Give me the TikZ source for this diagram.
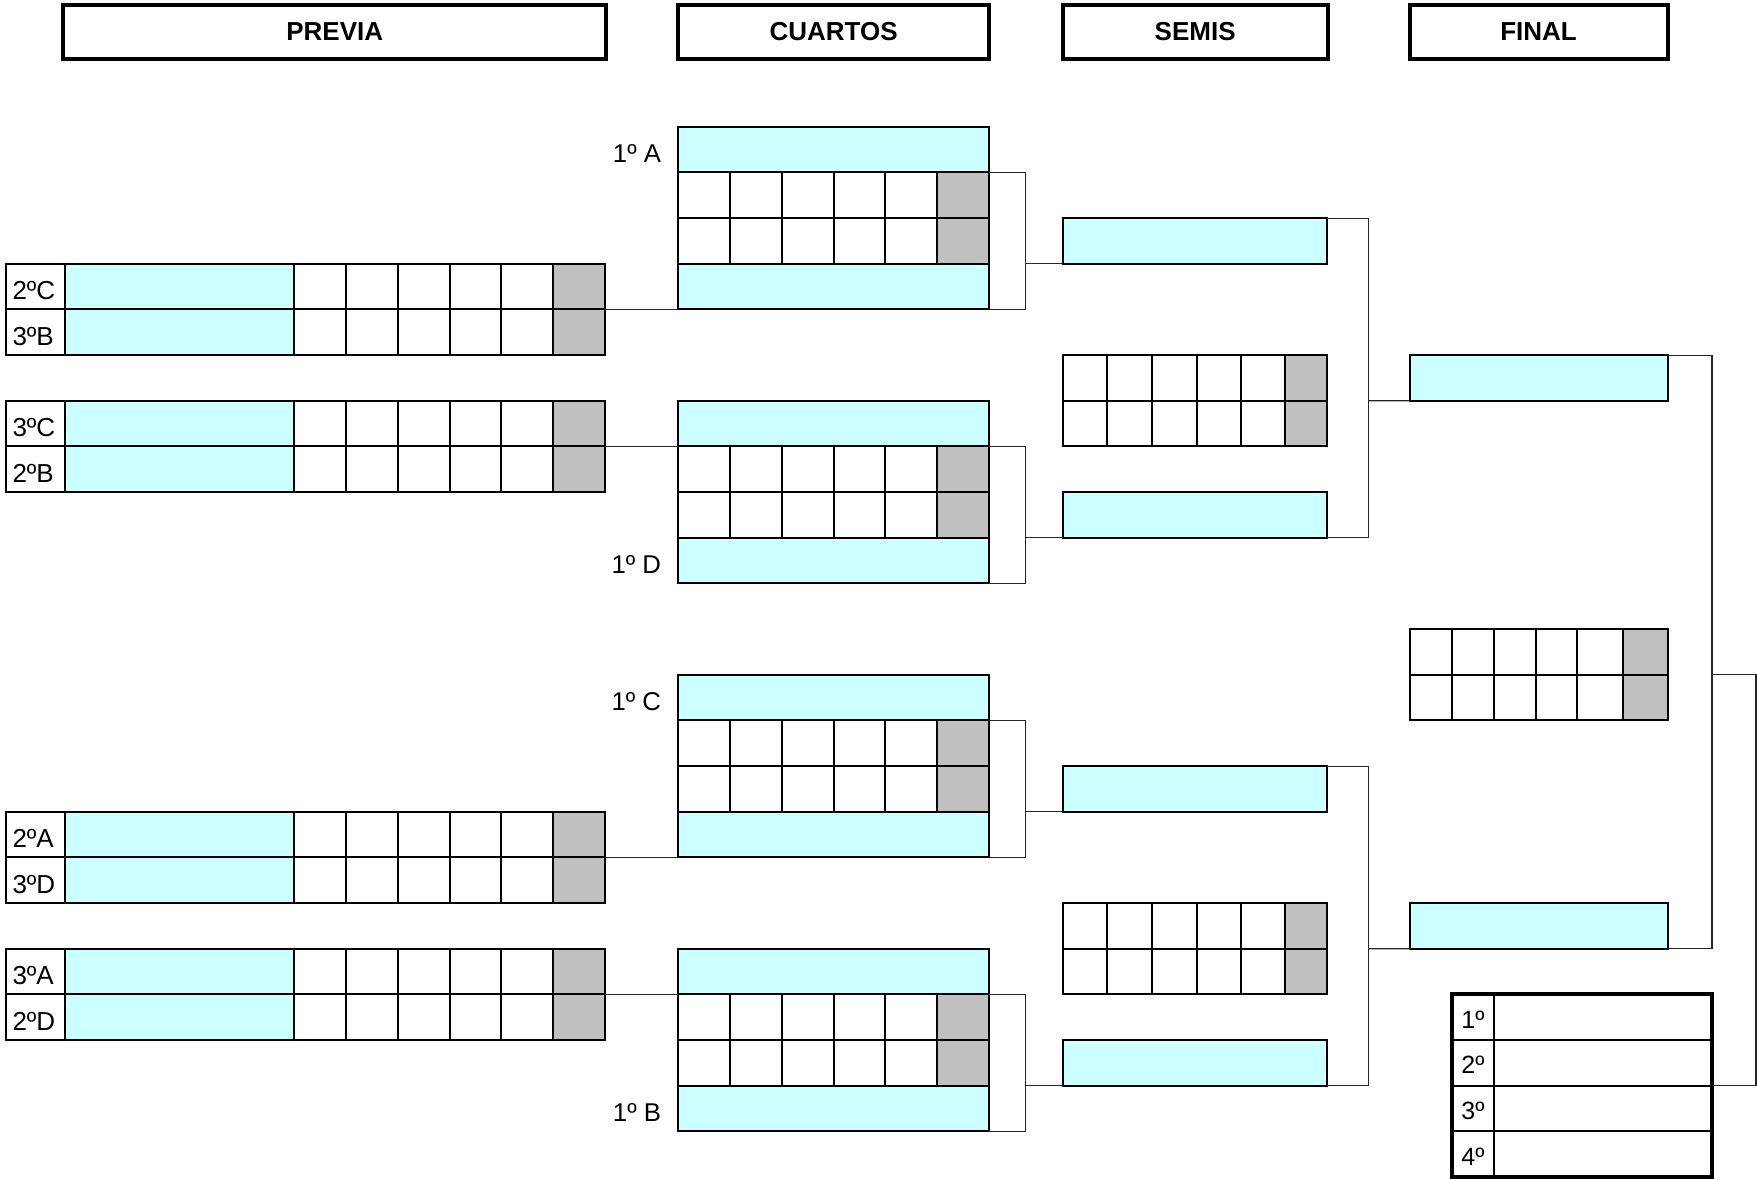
\documentclass[tikz,border=0pt]{standalone}
\usepackage{fontspec}
\setmainfont{Liberation Sans}
\usetikzlibrary{fit}
\definecolor{cyanfill}{HTML}{CCFFFF}
\definecolor{grayfill}{HTML}{C0C0C0}
\tikzset{
  declare function={R(\k)=126.7+45.67*\k;},
  gridline/.style={line width=1.5pt, draw=black},
  boxed/.style={draw=black, line width=1.5pt, inner sep=0pt, outer sep=0pt},
  cybox/.style={boxed, fill=cyanfill},
  hdr/.style={draw=black, line width=3pt, inner sep=0pt, outer sep=0pt},
  hdrtxt/.style={inner sep=0pt, outer sep=0pt, font=\fontsize{19.5}{20}\selectfont\bfseries},
  lbl/.style={inner sep=0pt, outer sep=0pt, font=\fontsize{19.5}{20}\selectfont},
  qlbl/.style={inner sep=0pt, outer sep=0pt, font=\fontsize{19.3}{20}\selectfont},
  plbl/.style={inner sep=0pt, outer sep=0pt, font=\fontsize{18.75}{20}\selectfont},
  conn/.style={draw=black!85, line width=0.8pt},
}
\newcommand\scoregrid[9]{%
  \fill[grayfill] (#8,{R(#2)}) rectangle (#9,{R(#2+2)});
  \foreach \xx in {#4,#5,#6,#7,#8}{\draw[gridline] (\xx,{R(#2)}) -- (\xx,{R(#2+2)});}
  \draw[gridline] (#3,{R(#2+1)}) -- (#9,{R(#2+1)});
  \node[boxed, fit={(#3,{R(#2)}) (#9,{R(#2+2)})}] (#1) {};
}
\newcommand\previa[4]{%
  \fill[cyanfill] (65.2,{R(#2)}) rectangle (294.2,{R(#2+2)});
  \fill[grayfill] (553.2,{R(#2)}) rectangle (605,{R(#2+2)});
  \foreach \xx in {65.2,294.2,346,397.8,449.6,501.4,553.2}{\draw[gridline] (\xx,{R(#2)}) -- (\xx,{R(#2+2)});}
  \draw[gridline] (6.25,{R(#2+1)}) -- (605,{R(#2+1)});
  \node[lbl, anchor=base west] (#1a) at (12.5,{R(#2+1)-10}) {#3};
  \node[lbl, anchor=base west] (#1b) at (12.5,{R(#2+2)-10}) {#4};
  \node[boxed, fit={(6.25,{R(#2)}) (605,{R(#2+2)})}] (#1) {};
}
\newcommand\cuartos[2]{%
  \node[cybox, fit={(678.3,{R(#2)}) (989,{R(#2+1)})}] (#1t) {};
  \scoregrid{#1g}{#2+1}{678.3}{730.1}{781.9}{833.7}{885.4}{937.2}{989}
  \node[cybox, fit={(678.3,{R(#2+3)}) (989,{R(#2+4)})}] (#1b) {};
}
\newcommand\semis[2]{%
  \node[cybox, fit={(1062.8,{R(#2)}) (1327.3,{R(#2+1)})}] (#1t) {};
  \scoregrid{#1g}{#2+3}{1062.8}{1107.2}{1152}{1196.5}{1240.9}{1285.3}{1327.3}
  \node[cybox, fit={(1062.8,{R(#2+6)}) (1327.3,{R(#2+7)})}] (#1b) {};
}
\begin{document}
\begin{tikzpicture}[x=0.75pt,y=-0.75pt]
\useasboundingbox (0,0) rectangle (1757,1179);
\fill[white] (0,0) rectangle (1757,1179);

% headers
\node[hdr, fit={(63.4,4.8) (606,58.8)}] (hprev) {};
\node[hdr, fit={(678.3,4.8) (989,58.8)}] (hcuar) {};
\node[hdr, fit={(1062.5,4.8) (1327.8,58.8)}] (hsemi) {};
\node[hdr, fit={(1409.6,4.8) (1667.5,58.8)}] (hfin) {};
\node[hdrtxt, anchor=base] (tprev) at ([yshift=-6.8pt]hprev.center) {PREVIA};
\node[hdrtxt, anchor=base] (tcuar) at ([yshift=-6.8pt]hcuar.center) {CUARTOS};
\node[hdrtxt, anchor=base] (tsemi) at ([yshift=-6.8pt]hsemi.center) {SEMIS};
\node[hdrtxt, anchor=base] (tfin) at ([yshift=-6.8pt]hfin.center) {FINAL};

% previa
\previa{pv1}{3}{2ºC}{3ºB}
\previa{pv2}{6}{3ºC}{2ºB}
\previa{pv3}{15}{2ºA}{3ºD}
\previa{pv4}{18}{3ºA}{2ºD}

% cuartos
\cuartos{q1}{0}
\cuartos{q2}{6}
\cuartos{q3}{12}
\cuartos{q4}{18}
\node[qlbl, anchor=base east] (l1a) at (661,{R(1)-10}) {1º A};
\node[qlbl, anchor=base east] (l1d) at (661,{R(10)-10}) {1º D};
\node[qlbl, anchor=base east] (l1c) at (661,{R(13)-10}) {1º C};
\node[qlbl, anchor=base east] (l1b) at (661,{R(22)-10}) {1º B};

% semis
\semis{s1}{2}
\semis{s2}{14}

% final
\node[cybox, fit={(1410,{R(5)}) (1667.7,{R(6)})}] (ft) {};
\scoregrid{fg}{11}{1410}{1452.3}{1494}{1535.7}{1577.3}{1622.7}{1667.7}
\node[cybox, fit={(1410,{R(17)}) (1667.7,{R(18)})}] (fb) {};

% podium
\fill[white] (1451.7,{R(19)}) rectangle (1712,{R(23)});
\foreach \r in {20,21,22}{\draw[gridline] (1451.7,{R(\r)}) -- (1712,{R(\r)});}
\draw[gridline] (1494,{R(19)}) -- (1494,{R(23)});
\node[draw=black, line width=3pt, inner sep=0pt, outer sep=0pt, fit={(1451.7,{R(19)}) (1712,{R(23)})}] (pod) {};
\node[plbl, anchor=base] (p1) at (1473,{R(20)-12}) {1º};
\node[plbl, anchor=base] (p2) at (1473,{R(21)-12}) {2º};
\node[plbl, anchor=base] (p3) at (1473,{R(22)-12}) {3º};
\node[plbl, anchor=base] (p4) at (1473,{R(23)-12}) {4º};

% connectors previa -> cuartos
\draw[conn] (pv1.east) -- (q1b.south west);
\draw[conn] (pv2.east) -- (q2t.south west);
\draw[conn] (pv3.east) -- (q3b.south west);
\draw[conn] (pv4.east) -- (q4t.south west);

% cuartos brackets
\coordinate (c1) at (1025.7,0 |- q1g.south east);
\coordinate (c2) at (1025.7,0 |- q2g.south east);
\coordinate (c3) at (1025.7,0 |- q3g.south east);
\coordinate (c4) at (1025.7,0 |- q4g.south east);
\draw[conn] (q1g.north east) -| (c1) |- (q1b.south east);
\draw[conn] (q2g.north east) -| (c2) |- (q2b.south east);
\draw[conn] (q3g.north east) -| (c3) |- (q3b.south east);
\draw[conn] (q4g.north east) -| (c4) |- (q4b.south east);
\draw[conn] (c1) -- (s1t.south west);
\draw[conn] (c2) -- (s1b.south west);
\draw[conn] (c3) -- (s2t.south west);
\draw[conn] (c4) -- (s2b.south west);

% semis brackets
\coordinate (sb1) at (1368.8,0 |- s1g.east);
\coordinate (sb2) at (1368.8,0 |- s2g.east);
\draw[conn] (s1t.north east) -| (sb1) |- (s1b.south east);
\draw[conn] (s2t.north east) -| (sb2) |- (s2b.south east);
\draw[conn] (sb1) -- (ft.south west);
\draw[conn] (sb2) -- (fb.south west);

% final bracket
\coordinate (fj) at (1712,0 |- fg.east);
\coordinate (fo) at (1756,0 |- fg.east);
\draw[conn] (ft.north east) -| (fj) |- (fb.south east);
\draw[conn] (fj) -- (fo) |- (pod.east);
\end{tikzpicture}
\end{document}
